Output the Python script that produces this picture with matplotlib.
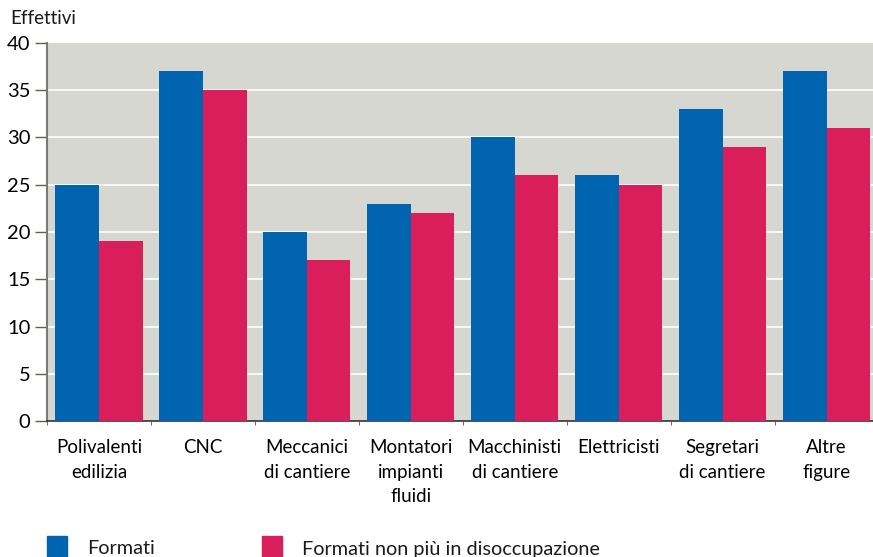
import matplotlib
matplotlib.use("Agg")
import matplotlib.pyplot as plt
from matplotlib.patches import Rectangle
import numpy as np

plt.rcParams.update({
    "font.family": ["Lato", "DejaVu Sans"],
    "text.color": "#1a1a1a",
})

categories = ["Polivalenti\nedilizia", "CNC", "Meccanici\ndi cantiere",
              "Montatori\nimpianti\nfluidi", "Macchinisti\ndi cantiere",
              "Elettricisti", "Segretari\ndi cantiere", "Altre\nfigure"]
formati = [25, 37, 20, 23, 30, 26, 33, 37]
non_disocc = [19, 35, 17, 22, 26, 25, 29, 31]
series_labels = ["Formati", "Formati non più in disoccupazione"]
yticks = [0, 5, 10, 15, 20, 25, 30, 35, 40]

BLUE = "#0064b0"
RED = "#d91e5b"
BG = "#d7d7d2"

W, H = 873, 557
fig = plt.figure(figsize=(W / 100, H / 100), dpi=100)
ax = fig.add_axes([47 / W, (H - 421) / H, (878.5 - 47) / W, 378 / H])
ax.set_facecolor(BG)

x = np.arange(len(categories))
bw = 0.42
ax.bar(x - bw / 2, formati, width=bw, color=BLUE, zorder=3)
ax.bar(x + bw / 2, non_disocc, width=bw, color=RED, zorder=3)

ax.set_xlim(-0.5, len(categories) - 0.5)
ax.set_ylim(0, 40)
ax.set_yticks(yticks)
ax.set_yticklabels([str(v) for v in yticks], fontsize=14.5)
for v in yticks[1:-1]:
    ax.axhline(v, color="white", lw=1.2, zorder=1)

ax.set_xticks(x)
ax.set_xticklabels(categories, fontsize=13.5, linespacing=1.55)
ax.set_xticks(np.arange(len(categories) + 1) - 0.5, minor=True)
ax.tick_params(axis="x", which="major", length=0, pad=13)
ax.tick_params(axis="x", which="minor", length=3, color="#555555")
ax.tick_params(axis="y", length=9, width=1, color="#6b5a50", pad=3)

for s in ["top", "right"]:
    ax.spines[s].set_visible(False)
ax.spines["left"].set_color("#7a7a7a")
ax.spines["left"].set_linewidth(1.5)
ax.spines["bottom"].set_color("#333333")
ax.spines["bottom"].set_linewidth(1.2)

fig.text(10 / W, 1 - 19 / H, "Effettivi", fontsize=13.5, va="center", ha="left")

# legend strip along the bottom edge
for (x0, lab_x), col, lab in zip([(47, 87), (262, 302)], [BLUE, RED], series_labels):
    fig.patches.append(Rectangle((x0 / W, (H - 557) / H), 20 / W, 21 / H,
                                 transform=fig.transFigure, color=col))
    fig.text(lab_x / W, 1 - 549 / H, lab, fontsize=14.3, va="center", ha="left")

fig.savefig("out.png", dpi=100)
